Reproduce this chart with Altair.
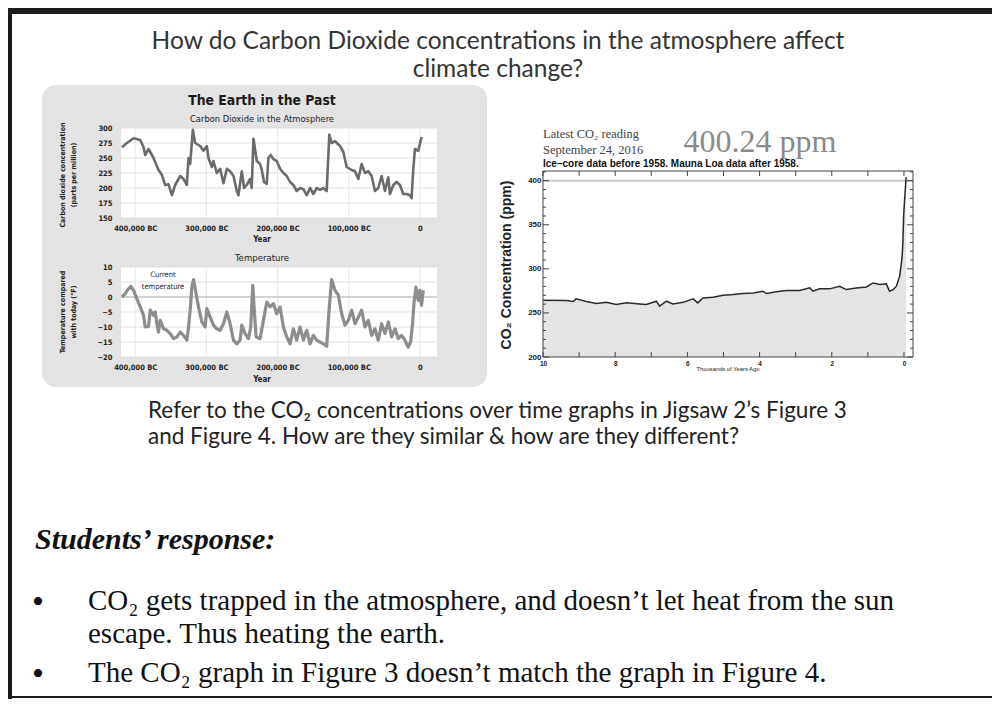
import altair as alt
import pandas as pd

W, H = 984, 691

NARROW = "Liberation Sans Narrow, DejaVu Sans Condensed, Roboto Condensed, Roboto, sans-serif"
ARIAL = "Liberation Sans, Arial, sans-serif"
SERIF = "Liberation Serif, Times New Roman, serif"
SLIDE = "Lato, Open Sans, sans-serif"

# ---------------- data ----------------
# Vostok-style CO2 (thousand years relative to today, ppm)
co2_year_k = [-418.7, -411.7, -402.3, -393.0, -388.3, -386.0, -381.3, -374.3, -367.3, -362.6,
              -357.9, -353.2, -348.5, -343.9, -336.8, -332.2, -327.5, -325.1, -322.8, -319.1,
              -315.8, -308.8, -304.1, -299.4, -297.1, -292.4, -290.1, -285.4, -280.7, -276.0,
              -271.3, -266.7, -262.0, -257.3, -255.0, -250.3, -247.0, -243.3, -238.6, -236.3,
              -233.9, -229.2, -224.6, -222.2, -219.0, -215.2, -212.9, -209.6, -205.8, -201.2,
              -196.5, -191.8, -187.1, -182.5, -177.8, -173.1, -168.4, -163.7, -159.1, -154.4,
              -149.7, -145.0, -140.4, -135.7, -131.0, -127.3, -124.0, -119.3, -112.3, -107.6,
              -102.9, -95.9, -91.2, -86.5, -81.9, -77.2, -72.5, -67.8, -63.2, -58.5,
              -53.8, -49.1, -44.4, -42.1, -37.4, -32.7, -28.1, -23.4, -18.7, -14.0,
              -11.7, -9.4, -7.0, -2.3, 2.3]
co2_ppm = [268, 275, 283, 280, 268, 255, 265, 250, 230, 222,
           205, 206, 188, 205, 220, 215, 205, 250, 240, 297,
           275, 270, 262, 270, 250, 235, 245, 225, 232, 208,
           232, 228, 220, 195, 188, 228, 200, 205, 215, 200,
           282, 245, 240, 230, 210, 207, 250, 255, 248, 245,
           232, 225, 220, 210, 205, 195, 200, 198, 188, 200,
           190, 200, 197, 200, 195, 289, 275, 278, 270, 260,
           235, 230, 228, 215, 240, 225, 228, 220, 195, 200,
           220, 195, 218, 190, 205, 210, 205, 190, 190, 188,
           183, 230, 265, 262, 285]

# Temperature compared with today (deg F)
temp_year_k = [-418.7, -414.0, -410.8, -406.1, -402.3, -397.7, -393.0, -388.3, -386.0, -381.3,
               -378.9, -374.3, -371.9, -369.6, -367.3, -364.9, -360.2, -355.6, -350.9, -346.2,
               -341.5, -336.8, -332.2, -327.5, -325.1, -322.8, -320.5, -318.1, -315.8, -311.1,
               -306.4, -301.8, -299.4, -294.7, -290.1, -285.4, -280.7, -276.0, -271.3, -266.7,
               -262.0, -257.3, -252.6, -250.3, -245.6, -240.9, -237.7, -234.9, -233.0, -230.2,
               -224.6, -219.9, -215.2, -210.5, -205.8, -201.2, -196.5, -191.8, -187.1, -182.5,
               -177.8, -173.1, -168.4, -163.7, -159.1, -154.4, -149.7, -145.0, -140.4, -135.7,
               -131.0, -127.3, -124.0, -119.3, -114.6, -109.9, -105.3, -100.6, -95.9, -91.2,
               -86.5, -81.9, -77.2, -72.5, -67.8, -63.2, -58.5, -53.8, -49.1, -44.4,
               -39.8, -35.1, -30.4, -25.7, -21.1, -16.4, -13.1, -10.3, -8.4, -5.6,
               -2.3, 0.0, 2.3, 4.7]
temp_f = [0, 1.1, 2.4, 3.5, 2.2, -0.6, -3.3, -6.1, -10, -9.8,
          -4.4, -6.1, -5, -8.9, -11.7, -7.8, -10.6, -11.1, -12.2, -13.9,
          -13.3, -11.7, -12.8, -14.4, -10, -4.4, 3.3, 5.8, 2.8, -3.3,
          -8.3, -10, -3.9, -6.7, -9.4, -10.6, -11.1, -8.9, -5, -8.9,
          -14.4, -15.6, -14.4, -9.4, -12.2, -13.9, -10, 3.9, -3.3, -13.3,
          -13.9, -7.8, -1.7, -3.3, -2.2, -5.6, -3.3, -10, -13.3, -15.6,
          -10.6, -14.4, -10, -14.4, -11.1, -15.6, -12.8, -14.4, -15, -15.6,
          -16.4, -3.3, 5.8, 2.2, 0.6, -5.6, -9.4, -7.8, -4.4, -8.9,
          -6.7, -4.4, -10, -7.8, -12.8, -10.6, -14.4, -8.9, -12.2, -8.3,
          -13.3, -10.6, -13.9, -12.8, -14.4, -16.7, -15, -8.9, -2.2, 3.3,
          -1.1, 2.2, -2.8, 2.2]

# Last 10,000 years (thousands of years ago, ppm)
holo_kyr = [10.0, 9.35, 9.17, 9.08, 8.8, 8.52, 8.25, 7.97, 7.69, 7.32,
            7.14, 6.86, 6.77, 6.58, 6.4, 6.12, 5.84, 5.71, 5.57, 5.29,
            5.01, 4.74, 4.46, 4.18, 3.91, 3.81, 3.54, 3.26, 2.89, 2.61,
            2.52, 2.34, 2.06, 1.78, 1.6, 1.32, 1.04, 0.86, 0.67, 0.49,
            0.4, 0.3, 0.21, 0.12, 0.07, 0.05, 0.03, 0.01, -0.02, -0.06]
holo_ppm = [264.4, 264, 263, 266, 263, 260.6, 262, 259.5, 261.4, 260.2,
            259.5, 263.3, 257.6, 263.3, 260.2, 262, 266, 261.4, 267, 267.8,
            270, 270.8, 272, 272.7, 274.6, 272, 273.9, 275.4, 275.4, 278.4,
            274.6, 277.3, 277.3, 280.3, 276.5, 278.4, 279.5, 284, 282.2, 283,
            274.6, 276.5, 280.3, 291.7, 306.8, 315, 330, 360, 380, 404]

left_x_ticks = [-400, -300, -200, -100, 0]
co2_y_ticks = [150, 175, 200, 225, 250, 275, 300]
temp_y_ticks = [-20, -15, -10, -5, 0, 5, 10]
holo_x_labels = [10, 8, 6, 4, 2, 0]
holo_x_minor = [10, 9, 8, 7, 6, 5, 4, 3, 2, 1, 0]
holo_y_labels = [200, 250, 300, 350, 400]
holo_y_minor = [210, 220, 230, 240, 260, 270, 280, 290, 310, 320, 330, 340,
                360, 370, 380, 390, 410]

# ---------------- scales (pixel ranges place each panel) ----------------
x_left = alt.Scale(domain=[-420, 24], range=[113, 429], nice=False, zero=False)
y_co2 = alt.Scale(domain=[150, 300], range=[210, 120], nice=False, zero=False)
y_temp = alt.Scale(domain=[-20, 10], range=[349, 259], nice=False, zero=False)
x_holo = alt.Scale(domain=[10, -0.25], range=[535, 905], nice=False, zero=False)
y_holo = alt.Scale(domain=[200, 411], range=[349, 163], nice=False, zero=False)

one = pd.DataFrame({"a": [0]})


def T(s, x, y, size, font, color="#222", weight="normal", style="normal",
      align="left", angle=0, baseline="middle", lineHeight=None):
    kw = dict(text=s, fontSize=size, font=font, color=color, fontWeight=weight,
              fontStyle=style, align=align, baseline=baseline)
    if angle:
        kw["angle"] = angle
    if lineHeight:
        kw["lineHeight"] = lineHeight
    return alt.Chart(one).mark_text(**kw).encode(x=alt.value(x), y=alt.value(y))


def R(x, x2, y, y2, color, **kw):
    return alt.Chart(one).mark_rect(color=color, **kw).encode(
        x=alt.value(x), x2=alt.value(x2), y=alt.value(y), y2=alt.value(y2))


def ax(orient, offset, values, size, font, pad, label_expr=None, fmt=None):
    kw = dict(orient=orient, offset=offset, values=values, domain=False, ticks=False,
              tickSize=0, grid=False, labelFont=font, labelFontSize=size,
              labelFontWeight="bold", labelColor="#222", labelPadding=pad,
              labelFlush=False, labelOverlap=False, title=None, zindex=2)
    if label_expr:
        kw["labelExpr"] = label_expr
    if fmt:
        kw["format"] = fmt
    return alt.Axis(**kw)


bc_expr = "datum.value == 0 ? '0' : format(-datum.value * 1000, ',') + ' BC'"


def left_panel(df, yfield, yscale, yticks, ymin, ymax, axis_y, line_color, line_w, zero_line=False):
    bg = alt.Chart(one).mark_rect(color="white").encode(
        x=alt.X(datum=-420, type="quantitative", scale=x_left, axis=None), x2=alt.X2(datum=24),
        y=alt.Y(datum=ymin, type="quantitative", scale=yscale, axis=None), y2=alt.Y2(datum=ymax))
    hgrid = alt.Chart(pd.DataFrame({"v": yticks})).mark_rule(color="#d9d9d9", strokeWidth=0.8).encode(
        y=alt.Y("v:Q", scale=yscale, axis=None),
        x=alt.X(datum=-420, type="quantitative", scale=x_left, axis=None), x2=alt.X2(datum=24))
    vgrid = alt.Chart(pd.DataFrame({"v": left_x_ticks})).mark_rule(color="#e2e2e2", strokeWidth=0.8).encode(
        x=alt.X("v:Q", scale=x_left, axis=None),
        y=alt.Y(datum=ymin, type="quantitative", scale=yscale, axis=None), y2=alt.Y2(datum=ymax))
    layers = [bg, hgrid, vgrid]
    if zero_line:
        zl = alt.Chart(one).mark_rule(color="#b5b5b5", strokeWidth=1).encode(
            y=alt.Y(datum=0, type="quantitative", scale=yscale, axis=None),
            x=alt.X(datum=-420, type="quantitative", scale=x_left, axis=None), x2=alt.X2(datum=24))
        layers.append(zl)
    line = alt.Chart(df).mark_line(color=line_color, strokeWidth=line_w, strokeJoin="round").encode(
        x=alt.X("year:Q", scale=x_left,
                axis=ax("bottom", axis_y - H, left_x_ticks, 7.5, NARROW, 6, label_expr=bc_expr)),
        y=alt.Y(f"{yfield}:Q", scale=yscale, axis=ax("left", -113, yticks, 7.5, NARROW, 9)))
    layers.append(line)
    return layers


co2_df = pd.DataFrame({"year": co2_year_k, "ppm": co2_ppm})
temp_df = pd.DataFrame({"year": temp_year_k, "temp": temp_f})
holo_df = pd.DataFrame({"kyr": holo_kyr, "ppm": holo_ppm})

layers = []

# frame of the page
layers += [R(0, W, 0, 6, "#1c1c1c"), R(0, 4, 0, H, "#1c1c1c"), R(0, W, H - 3, H - 1, "#1c1c1c")]

# slide title
layers += [
    T("How do Carbon Dioxide concentrations in the atmosphere affect", 490, 34, 24.5, SLIDE, "#333", align="center"),
    T("climate change?", 490, 62, 24.5, SLIDE, "#333", align="center"),
]

# grey panel on the left
layers.append(R(34, 479, 77, 379, "#e3e3e3", cornerRadius=14))
layers += [
    T("The Earth in the Past", 254, 93, 13.8, NARROW, "#1a1a1a", weight="bold", align="center"),
    T("Carbon Dioxide in the Atmosphere", 254, 111, 9.3, NARROW, "#222", align="center"),
    T("Year", 254, 232, 8, NARROW, "#222", weight="bold", align="center"),
    T("Temperature", 254, 250, 9.5, NARROW, "#222", align="center"),
    T("Year", 254, 372, 8, NARROW, "#222", weight="bold", align="center"),
    T(["Carbon dioxide concentration", "(parts per million)"], 55, 167, 7, NARROW, "#222",
      weight="bold", align="center", angle=270, lineHeight=11),
    T(["Temperature compared", "with today (°F)"], 55, 304, 7, NARROW, "#222",
      weight="bold", align="center", angle=270, lineHeight=11),
]
layers += left_panel(co2_df, "ppm", y_co2, co2_y_ticks, 150, 300, 210, "#6b6b6b", 2.6)
layers += left_panel(temp_df, "temp", y_temp, temp_y_ticks, -20, 10, 349, "#8d8d8d", 3.2, zero_line=True)
layers += [
    T("Current", 155, 267, 7.5, NARROW, "#222", align="center"),
    T("temperature", 155, 279, 7.5, NARROW, "#222", align="center"),
]

# right panel: last 10,000 years
holo_area = alt.Chart(holo_df).mark_area(color="#e4e4e4").encode(
    x=alt.X("kyr:Q", scale=x_holo, axis=None),
    y=alt.Y("ppm:Q", scale=y_holo, axis=None), y2=alt.Y2(datum=200))
line400 = alt.Chart(one).mark_rule(color="#cfcfcf", strokeWidth=2.5).encode(
    y=alt.Y(datum=400, type="quantitative", scale=y_holo, axis=None),
    x=alt.X(datum=10, type="quantitative", scale=x_holo, axis=None), x2=alt.X2(datum=-0.25))
holo_line = alt.Chart(holo_df).mark_line(color="#2a2a2a", strokeWidth=1.5).encode(
    x=alt.X("kyr:Q", scale=x_holo, axis=ax("bottom", 349 - H, holo_x_labels, 6.5, ARIAL, 3, fmt="d")),
    y=alt.Y("ppm:Q", scale=y_holo, axis=ax("left", -535, holo_y_labels, 8, ARIAL, 2, fmt="d")))
frame = alt.Chart(one).mark_rect(fill="white", fillOpacity=0, stroke="#444", strokeWidth=1).encode(
    x=alt.X(datum=10, type="quantitative", scale=x_holo, axis=None), x2=alt.X2(datum=-0.25),
    y=alt.Y(datum=200, type="quantitative", scale=y_holo, axis=None), y2=alt.Y2(datum=411))
xm = pd.DataFrame({"v": holo_x_minor})
ticks_b = alt.Chart(xm).mark_rule(color="#444", strokeWidth=1).encode(
    x=alt.X("v:Q", scale=x_holo, axis=None), y=alt.value(349), y2=alt.value(344))
ticks_t = alt.Chart(xm).mark_rule(color="#444", strokeWidth=1).encode(
    x=alt.X("v:Q", scale=x_holo, axis=None), y=alt.value(163), y2=alt.value(168))
ym = pd.DataFrame({"v": holo_y_minor})
yM = pd.DataFrame({"v": holo_y_labels})
ticks_l = alt.Chart(ym).mark_rule(color="#444", strokeWidth=1).encode(
    y=alt.Y("v:Q", scale=y_holo, axis=None), x=alt.value(535), x2=alt.value(538))
ticks_r = alt.Chart(ym).mark_rule(color="#444", strokeWidth=1).encode(
    y=alt.Y("v:Q", scale=y_holo, axis=None), x=alt.value(905), x2=alt.value(902))
ticks_lM = alt.Chart(yM).mark_rule(color="#444", strokeWidth=1).encode(
    y=alt.Y("v:Q", scale=y_holo, axis=None), x=alt.value(535), x2=alt.value(541))
ticks_rM = alt.Chart(yM).mark_rule(color="#444", strokeWidth=1).encode(
    y=alt.Y("v:Q", scale=y_holo, axis=None), x=alt.value(905), x2=alt.value(899))
layers += [holo_area, line400, holo_line, frame, ticks_b, ticks_t, ticks_l, ticks_r, ticks_lM, ticks_rM]
layers += [
    T("Latest CO₂ reading", 535, 126, 12.5, SERIF, "#444"),
    T("September 24, 2016", 535, 142, 12.5, SERIF, "#444"),
    T("400.24 ppm", 752, 134, 32, SERIF, "#8a8a8a", align="center"),
    T("Ice–core data before 1958. Mauna Loa data after 1958.", 535, 156, 10, ARIAL, "#111", weight="bold"),
    T("Thousands of Years Ago", 720, 361, 5.8, ARIAL, "#222", align="center"),
    T("CO₂ Concentration (ppm)", 499, 257, 14, ARIAL, "#222", weight="bold", align="center", angle=270),
]

# question
layers += [
    T("Refer to the CO₂ concentrations over time graphs in Jigsaw 2’s Figure 3", 140, 403, 22.5, SLIDE, "#222"),
    T("and Figure 4.  How are they similar & how are they different?", 140, 429, 22.5, SLIDE, "#222"),
]

# students' response
layers += [
    T("Students’ response:", 27, 532, 30, SERIF, "#111", weight="bold", style="italic"),
    T("•", 30, 595, 34, SERIF, "#111", align="center"),
    T("CO₂ gets trapped in the atmosphere, and doesn’t let heat from the sun", 80, 593, 29, SERIF, "#111"),
    T("escape. Thus heating the earth.", 80, 626, 29, SERIF, "#111"),
    T("•", 30, 667, 34, SERIF, "#111", align="center"),
    T("The CO₂  graph in Figure 3 doesn’t match the graph in Figure 4.", 80, 665, 29, SERIF, "#111"),
]

chart = alt.layer(*layers).resolve_scale(
    x="independent", y="independent"
).properties(
    width=W, height=H, autosize=alt.AutoSizeParams(type="none"), padding=0, background="white"
).configure_view(strokeWidth=0)

chart.save("out.html", embed_options={"renderer": "svg", "actions": False})
